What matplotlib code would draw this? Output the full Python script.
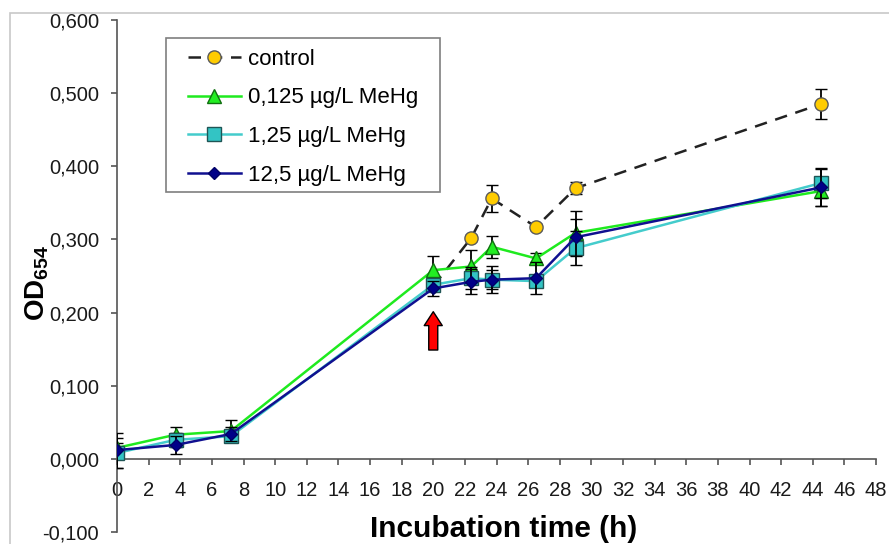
import matplotlib
matplotlib.use("Agg")
import matplotlib.pyplot as plt
from matplotlib.patches import Rectangle, FancyArrowPatch
from matplotlib.ticker import FuncFormatter, MultipleLocator

plt.rcParams["font.family"] = ["Liberation Sans", "DejaVu Sans"]
plt.rcParams["mathtext.fontset"] = "custom"
plt.rcParams["mathtext.rm"] = "Liberation Sans"
plt.rcParams["mathtext.bf"] = "Liberation Sans:bold"

# sampling times (h)
time = [0, 3.7, 7.2, 20, 22.4, 23.7, 26.5, 29, 44.5]
time_ctrl = [20, 22.4, 23.7, 26.5, 29, 44.5]

# OD654 values and error bars
od_ctrl = [0.236, 0.302, 0.356, 0.317, 0.370, 0.485]
err_ctrl = [0.0, 0.004, 0.018, 0.004, 0.008, 0.021]

od_0125 = [0.015, 0.033, 0.038, 0.258, 0.263, 0.290, 0.274, 0.309, 0.366]
err_0125 = [0.006, 0.010, 0.015, 0.020, 0.022, 0.015, 0.007, 0.030, 0.020]

od_125 = [0.008, 0.026, 0.031, 0.238, 0.247, 0.245, 0.243, 0.288, 0.377]
err_125 = [0.020, 0.010, 0.005, 0.006, 0.015, 0.013, 0.008, 0.023, 0.020]

od_1250 = [0.012, 0.019, 0.034, 0.233, 0.242, 0.245, 0.247, 0.303, 0.371]
err_1250 = [0.024, 0.012, 0.010, 0.010, 0.017, 0.018, 0.022, 0.025, 0.025]

labels = ["control", "0,125 \u00b5g/L MeHg", "1,25 \u00b5g/L MeHg", "12,5 \u00b5g/L MeHg"]

W, H = 889, 544
fig = plt.figure(figsize=(W / 100, H / 100), dpi=100)
ax = fig.add_axes([117 / W, (H - 532) / H, 759 / W, 512 / H])

# outer gray frame
fig.patches.append(Rectangle((10 / W, -0.1), 2, 1 - 13 / H + 0.1, transform=fig.transFigure,
                             fill=False, ec="#c8c8c8", lw=1.2))

eb = dict(ecolor="black", elinewidth=1.3, capsize=4, capthick=1.3)

c0 = ax.errorbar(time_ctrl, od_ctrl, yerr=err_ctrl, color="#222222", lw=1.8, dashes=(5, 3.5),
                 marker="o", ms=9.5, mfc="#FFCC00", mec="#5a5a5a", mew=1, zorder=2, **eb)
c1 = ax.errorbar(time, od_0125, yerr=err_0125, color="#1FEA1F", lw=1.8,
                 marker="^", ms=9.5, mfc="#22EE22", mec="#107010", mew=1, zorder=3, **eb)
c2 = ax.errorbar(time, od_125, yerr=err_125, color="#44CCCC", lw=1.8,
                 marker="s", ms=9.5, mfc="#33C4C4", mec="#1f5555", mew=1, zorder=4, **eb)
c3 = ax.errorbar(time, od_1250, yerr=err_1250, color="#101090", lw=1.8,
                 marker="D", ms=6.5, mfc="#000088", mec="#000066", mew=1, zorder=5, **eb)

# red arrow marking addition of MeHg
arrow = FancyArrowPatch(posA=(20, 0.145), posB=(20, 0.205),
                        arrowstyle="simple,head_length=1.0,head_width=1.3,tail_width=0.65",
                        mutation_scale=10, fc="#FF0000", ec="black", lw=1, zorder=6)
ax.add_patch(arrow)

ax.set_xlim(0, 48)
ax.set_ylim(-0.1, 0.6)
ax.xaxis.set_major_locator(MultipleLocator(2))
ax.yaxis.set_major_locator(MultipleLocator(0.1))
ax.yaxis.set_major_formatter(FuncFormatter(lambda v, p: f"{v:.3f}".replace(".", ",")))

ax.spines["top"].set_visible(False)
ax.spines["right"].set_visible(False)
ax.spines["bottom"].set_position(("data", 0))
for s in ("left", "bottom"):
    ax.spines[s].set_color("#555555")
    ax.spines[s].set_linewidth(1.2)
ax.tick_params(axis="both", direction="out", length=4, width=1.2, color="#555555",
               labelsize=14.5, labelcolor="#1a1a1a")
ax.tick_params(axis="y", pad=9)
ax.tick_params(axis="x", pad=12)

ax.set_xlabel("Incubation time (h)", fontsize=21.5, fontweight="bold", va="center")
ax.xaxis.set_label_coords(0.509, 0.006)
ax.set_ylabel(r"$\mathbf{OD_{654}}$", fontsize=20, va="center")
ax.yaxis.set_label_coords(-0.105, 0.486)

handles = [c0[0], c1[0], c2[0], c3[0]]
leg = ax.legend(handles, labels, loc="upper left",
                bbox_to_anchor=((181 - 117) / 759, (532 - 42) / 512),
                borderaxespad=0, frameon=False, fontsize=16, handlelength=2.4,
                handletextpad=0.3, labelspacing=0.8, borderpad=0.3, numpoints=1)
fig.patches.append(Rectangle((166 / W, (H - 192) / H), 274 / W, 154 / H, transform=fig.transFigure,
                             fill=False, ec="#7f7f7f", lw=1.2, zorder=10))

fig.savefig("out.png", dpi=100)
